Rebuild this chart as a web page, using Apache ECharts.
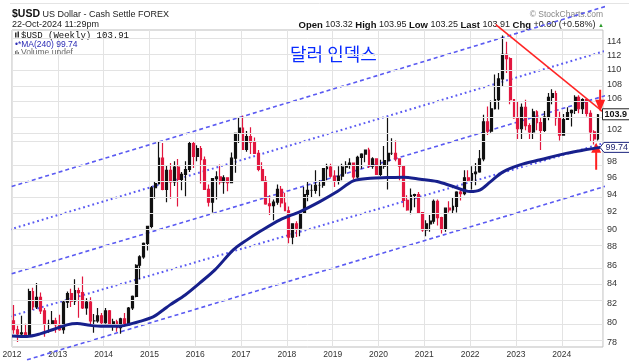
<!DOCTYPE html>
<html>
<head>
<meta charset="utf-8">
<script src="https://cdn.jsdelivr.net/npm/echarts@6/dist/echarts.min.js"></script>
<style>html,body{margin:0;padding:0;background:#fff;}#c{width:629px;height:362px;}</style>
</head>
<body>
<div id="c"></div>
<script>
// ---------------- data ----------------
const startYear = 2012;            // first monthly bar = Jan 2012
const yearLabels = [2012,2013,2014,2015,2016,2017,2018,2019,2020,2021,2022,2023,2024];
const yTicks = [78,80,82,84,86,88,90,92,94,96,98,100,102,104,106,108,110,112,114];

// monthly OHLC of $USD, Jan 2012 .. Oct 2024
const open = [
 80.2,79.3,78.9,79.0,78.8,83.2,81.6,82.6,81.2,79.9,79.9,80.2,
 79.8,79.3,82.1,83.0,82.2,83.3,83.1,81.5,82.1,80.2,80.2,80.7,
 80.0,81.2,79.7,80.1,79.5,80.4,79.8,81.5,82.7,86.0,86.9,88.4,
 90.3,94.8,95.3,98.4,94.6,96.9,95.5,97.3,95.8,96.4,97.0,100.2,
 98.6,99.6,98.2,94.6,93.1,95.9,96.1,95.5,96.0,95.4,98.4,101.5,
 102.2,99.5,101.1,100.4,99.0,97.0,95.6,92.9,92.7,93.1,94.6,93.0,
 92.1,89.1,90.6,90.1,91.8,94.0,94.5,94.5,95.1,95.1,97.1,97.3,
 96.2,95.6,96.2,97.3,97.5,97.8,96.1,98.5,98.9,99.4,97.4,98.3,
 96.4,97.4,98.1,99.0,99.0,98.3,97.4,93.3,92.2,93.9,94.0,91.9,
 89.9,90.6,90.9,93.2,91.3,90.0,92.4,92.2,92.6,94.3,94.1,96.0,
 95.7,96.5,96.7,98.3,103.0,101.8,104.7,105.9,108.7,112.1,111.5,105.9,
 103.5,102.1,104.9,102.5,101.7,104.3,102.9,101.9,103.6,106.2,106.7,103.5,
 101.3,103.3,104.2,104.5,106.2,104.7,105.9,104.1,101.7,100.8
];
const high = [
 81.8,79.7,80.7,79.9,83.5,83.6,84.1,83.1,81.5,80.3,81.2,80.5,
 80.8,82.3,83.2,83.5,84.5,83.6,84.8,82.5,82.6,80.9,81.5,81.0,
 81.5,81.3,80.4,80.3,80.5,81.0,81.6,82.8,86.1,87.1,88.5,90.3,
 95.0,95.5,100.4,100.3,97.5,97.8,98.0,98.3,96.7,98.0,100.4,100.5,
 100.0,99.9,98.6,95.2,95.9,96.8,97.6,96.3,96.0,99.1,101.6,103.6,
 103.8,101.8,102.3,101.0,99.4,97.9,96.2,93.9,93.4,95.2,95.0,94.2,
 92.6,90.6,90.9,91.9,94.9,95.5,95.2,96.9,95.7,97.2,97.7,97.7,
 96.9,97.4,97.7,98.0,98.4,97.8,98.7,99.0,99.4,99.7,98.5,98.4,
 98.2,99.9,103.5,100.9,100.6,98.4,97.5,93.9,94.7,94.1,94.3,91.9,
 91.0,91.6,93.4,93.4,91.4,92.4,93.2,93.7,94.4,94.6,96.9,96.9,
 97.4,97.8,99.4,103.9,105.0,105.8,109.3,109.5,114.8,113.9,111.7,106.0,
 105.6,105.4,105.9,102.8,104.7,104.5,103.6,104.4,106.8,107.3,107.1,104.3,
 104.0,104.9,104.6,106.5,106.5,106.1,106.0,104.5,101.9,104.0
];
const low = [
 78.9,78.1,78.6,78.7,78.7,81.3,81.4,80.9,78.6,79.0,79.8,79.0,
 79.2,78.9,81.5,81.6,81.8,80.5,81.4,80.8,79.8,79.0,80.0,79.8,
 79.9,79.7,79.2,79.1,78.9,79.6,79.7,81.3,82.6,84.5,86.7,87.6,
 90.1,93.5,95.2,94.5,93.1,93.5,95.0,92.6,94.5,93.8,96.7,97.2,
 98.0,95.3,94.6,92.6,91.9,93.4,95.2,94.1,94.4,95.4,96.6,100.3,
 99.4,99.2,98.9,98.9,96.8,95.5,92.8,91.6,91.0,92.8,92.5,92.1,
 88.4,88.3,89.1,89.2,91.8,93.2,93.7,94.1,93.8,94.8,95.7,96.0,
 94.9,95.2,95.7,96.5,97.1,95.8,95.9,97.1,97.9,97.2,97.1,96.4,
 96.2,97.1,94.6,98.8,98.0,95.7,92.5,92.1,91.7,92.5,91.8,89.7,
 89.2,89.7,90.6,90.4,89.5,89.7,91.9,91.8,91.9,93.3,93.9,95.6,
 94.6,95.1,96.6,98.0,101.3,101.6,104.6,104.6,107.6,109.5,105.3,103.4,
 100.8,100.8,101.9,100.8,100.8,101.9,99.4,101.7,103.2,105.3,102.5,100.6,
 101.3,103.3,102.4,104.0,104.1,104.0,103.7,100.5,100.1,100.6
];
const close = [
 79.3,78.9,79.0,78.8,83.2,81.6,82.6,81.2,79.9,79.9,80.2,79.8,
 79.3,82.1,83.0,82.2,83.3,83.1,81.5,82.1,80.2,80.2,80.7,80.0,
 81.2,79.7,80.1,79.5,80.4,79.8,81.5,82.7,86.0,86.9,88.4,90.3,
 94.8,95.3,98.4,94.6,96.9,95.5,97.3,95.8,96.4,97.0,100.2,98.6,
 99.6,98.2,94.6,93.1,95.9,96.1,95.5,96.0,95.4,98.4,101.5,102.2,
 99.5,101.1,100.4,99.0,97.0,95.6,92.9,92.7,93.1,94.6,93.0,92.1,
 89.1,90.6,90.1,91.8,94.0,94.5,94.5,95.1,95.1,97.1,97.3,96.2,
 95.6,96.2,97.3,97.5,97.8,96.1,98.5,98.9,99.4,97.4,98.3,96.4,
 97.4,98.1,99.0,99.0,98.3,97.4,93.3,92.2,93.9,94.0,91.9,89.9,
 90.6,90.9,93.2,91.3,90.0,92.4,92.2,92.6,94.3,94.1,96.0,95.7,
 96.5,96.7,98.3,103.0,101.8,104.7,105.9,108.7,112.1,111.5,105.9,103.5,
 102.1,104.9,102.5,101.7,104.3,102.9,101.9,103.6,106.2,106.7,103.5,101.3,
 103.3,104.2,104.5,106.2,104.7,105.9,104.1,101.7,100.8,103.91
];

// MA(240)
const maYears = [2012.00,2012.33,2012.61,2012.90,2013.20,2013.42,2013.70,2013.99,2014.29,2014.51,
 2014.79,2015.08,2015.30,2015.45,2015.78,2016.10,2016.43,2016.83,2017.13,2017.41,
 2017.85,2018.29,2018.72,2019.10,2019.45,2019.82,2020.19,2020.54,2020.91,2021.28,
 2021.63,2022.00,2022.22,2022.44,2022.72,2023.09,2023.53,2024.12,2024.51,2024.84];
const maValues = [78.69,78.64,78.89,79.33,79.79,79.92,79.74,79.64,79.64,79.79,
 80.14,80.59,81.30,81.82,82.85,84.11,85.50,87.68,88.79,89.72,
 91.05,92.01,93.17,94.35,95.63,95.95,96.02,96.07,95.83,95.55,
 94.95,94.35,94.55,95.51,96.72,97.57,98.19,99.02,99.43,99.74];

// channel lines [year, value] endpoints, top to bottom
const channelStart = [[2011.847,94.71],[2011.847,89.79],[2011.847,84.87],[2011.847,80.49],[2012.328,76.36]];
const channelEnd   = [[2025.472,120.16],[2025.472,113.63],[2025.472,107.40],[2025.472,101.22],[2025.472,95.83]];
// red falling trend line
const trendStart = [2022.560,116.40];
const trendEnd   = [2025.472,101.53];

const lastValue = 103.91;
const maLast = 99.74;

// ---------------- chart ----------------
const L = Math.log;
const FONT = '"Liberation Sans", Arial, sans-serif';
const channelTypes = [[4,3],[1.8,3],[4,3],[1.8,3],[4,3]];
const channelWidths = [1.6,2,1.6,2,1.6];
const xs = close.map((_, i) => startYear + (i + 0.5) / 12);
const candleData = close.map((c, i) => [xs[i], L(open[i]), L(c), L(low[i]), L(high[i])]);

const chart = echarts.init(document.getElementById('c'), null, {renderer: 'canvas', width: 629, height: 362});

const series = [];
series.push({
  type: 'line', data: [], silent: true, z: 1,
  markLine: {
    silent: true, symbol: ['none', 'none'], label: {show: false},
    lineStyle: {color: '#e3e3e3', type: 'solid', width: 1},
    emphasis: {disabled: true},
    data: yTicks.map(t => ({yAxis: L(t)}))
  }
});
channelStart.forEach((s, i) => {
  series.push({
    type: 'line', clip: false, silent: true, symbol: 'none', z: 3,
    data: [[s[0], L(s[1])], [channelEnd[i][0], L(channelEnd[i][1])]],
    lineStyle: {color: '#5a5af2', width: channelWidths[i], type: channelTypes[i]}
  });
});
series.push({
  type: 'candlestick', data: candleData, barWidth: 2.4, z: 4, silent: true,
  itemStyle: {color: '#111', color0: '#e2173f', borderColor: '#111', borderColor0: '#e2173f', borderColorDoji: '#111', borderWidth: 1.2}
});
series.push({
  type: 'line', data: maYears.map((y, i) => [y, L(maValues[i])]), smooth: 0.3, symbol: 'none', z: 5, silent: true,
  lineStyle: {color: '#17208c', width: 3}
});
series.push({
  type: 'line', clip: false, silent: true, symbol: 'none', z: 6,
  data: [[trendStart[0], L(trendStart[1])], [trendEnd[0], L(trendEnd[1])]],
  lineStyle: {color: '#ff2424', width: 1.6},
  markPoint: {
    silent: true, label: {show: false}, itemStyle: {color: '#ff1f1f'},
    data: [
      {coord: [2024.838, L(105.75)], symbol: 'path://M4 0 L6 0 L6 10 L10 10 L5 22 L0 10 L4 10 Z', symbolSize: [10, 22]},
      {coord: [2024.751, L(98.63)], symbol: 'path://M5 0 L10 10 L6 10 L6 27 L4 27 L4 10 L0 10 Z', symbolSize: [10, 27]}
    ]
  }
});

chart.setOption({
  animation: false,
  backgroundColor: '#fff',
  grid: {left: 12, right: 26, top: 30, bottom: 15, show: true, borderColor: '#bdbdbd', borderWidth: 1, containLabel: false, outerBoundsMode: 'none'},
  xAxis: {
    type: 'value', min: 2012, max: 2024.9, interval: 1,
    axisLine: {show: false}, axisTick: {show: false},
    splitLine: {show: true, lineStyle: {color: '#e3e3e3', width: 1}},
    axisLabel: {formatter: v => (yearLabels.indexOf(v) >= 0 ? String(v) : ''), fontSize: 8.5, color: '#333', margin: 3, fontFamily: FONT}
  },
  yAxis: {
    type: 'value', position: 'right', min: L(77.6), max: L(115.6),
    axisLine: {show: false}, axisTick: {show: false}, splitLine: {show: false},
    axisLabel: {customValues: yTicks.map(L), formatter: v => String(Math.round(Math.exp(v))), fontSize: 9, color: '#333', margin: 4, fontFamily: FONT}
  },
  series: series
});

const pLast = chart.convertToPixel({gridIndex: 0}, [2024.9, L(lastValue)]);
const pMA = chart.convertToPixel({gridIndex: 0}, [2024.9, L(maLast)]);
const yl = pLast[1], ym = pMA[1];

chart.setOption({
  graphic: [
    {type: 'line', shape: {x1: 10, y1: 3.5, x2: 629, y2: 3.5}, style: {stroke: '#e4e4e4', lineWidth: 1}},
    {type: 'text', x: 12, y: 14.5, style: {
      text: '{b|$USD} {n|US Dollar - Cash Settle FOREX}', fontSize: 9, fontFamily: FONT, verticalAlign: 'middle',
      rich: {b: {fontSize: 10.5, fontWeight: 'bold', fontFamily: FONT, fill: '#111'}, n: {fontSize: 9, fontFamily: FONT, fill: '#222'}}
    }},
    {type: 'text', x: 12, y: 24.5, style: {text: '22-Oct-2024 11:29pm', font: '9px ' + FONT, fill: '#222', verticalAlign: 'middle'}},
    {type: 'text', x: 603, y: 14.5, style: {text: '© StockCharts.com', font: '8.5px ' + FONT, fill: '#888', align: 'right', verticalAlign: 'middle'}},
    {type: 'text', x: 604, y: 25, style: {
      text: '{b|Open} {n|103.32} {b|High} {n|103.95} {b|Low} {n|103.25} {b|Last} {n|103.91} {b|Chg} {n|+0.60 (+0.58%)} {g|▲}',
      fontSize: 9, fontFamily: FONT, align: 'right', verticalAlign: 'middle',
      rich: {
        b: {fontSize: 9.5, fontWeight: 'bold', fontFamily: FONT, fill: '#111'},
        n: {fontSize: 9, fontFamily: FONT, fill: '#222'},
        g: {fontSize: 6, fontFamily: FONT, fill: '#2a9a2a'}
      }
    }},
    {type: 'rect', shape: {x: 15, y: 32.5, width: 1.5, height: 5}, style: {fill: '#333'}},
    {type: 'rect', shape: {x: 17.5, y: 31.5, width: 1.5, height: 6}, style: {fill: '#333'}},
    {type: 'text', x: 21, y: 35.5, style: {text: '$USD (Weekly) 103.91', font: '9px "Liberation Mono", "DejaVu Sans Mono", monospace', fill: '#111', verticalAlign: 'middle'}},
    {type: 'text', x: 15, y: 44.5, style: {text: '•*MA(240) 99.74', font: '8.5px ' + FONT, fill: '#2b2bb5', verticalAlign: 'middle'}},
    {type: 'rect', shape: {x: 15, y: 51, width: 1, height: 4}, style: {fill: '#777'}},
    {type: 'rect', shape: {x: 16.5, y: 50, width: 1, height: 5}, style: {fill: '#777'}},
    {type: 'rect', shape: {x: 18, y: 52, width: 1, height: 3}, style: {fill: '#777'}},
    {type: 'text', x: 21, y: 53, style: {text: 'Volume undef', font: '8.5px ' + FONT, fill: '#666', verticalAlign: 'middle'}},
    {type: 'text', x: 290, y: 54, style: {text: '달러 인덱스', font: '18px "Noto Sans CJK KR", sans-serif', fill: '#0a2cff', verticalAlign: 'middle'}},
    {type: 'rect', z: 100, shape: {x: 602.5, y: yl - 6, width: 30, height: 11}, style: {fill: '#fff', stroke: '#222', lineWidth: 1}},
    {type: 'text', z: 101, x: 604.5, y: yl - 0.5, style: {text: '103.9', font: 'bold 9px ' + FONT, fill: '#111', verticalAlign: 'middle'}},
    {type: 'polygon', z: 100, shape: {points: [[600, ym], [604, ym - 5], [632, ym - 5], [632, ym + 5], [604, ym + 5]]}, style: {fill: '#fff', stroke: '#1a237e', lineWidth: 1}},
    {type: 'text', z: 101, x: 605.5, y: ym, style: {text: '99.74', font: '9px ' + FONT, fill: '#1b1f6e', verticalAlign: 'middle'}}
  ]
});
</script>
</body>
</html>
